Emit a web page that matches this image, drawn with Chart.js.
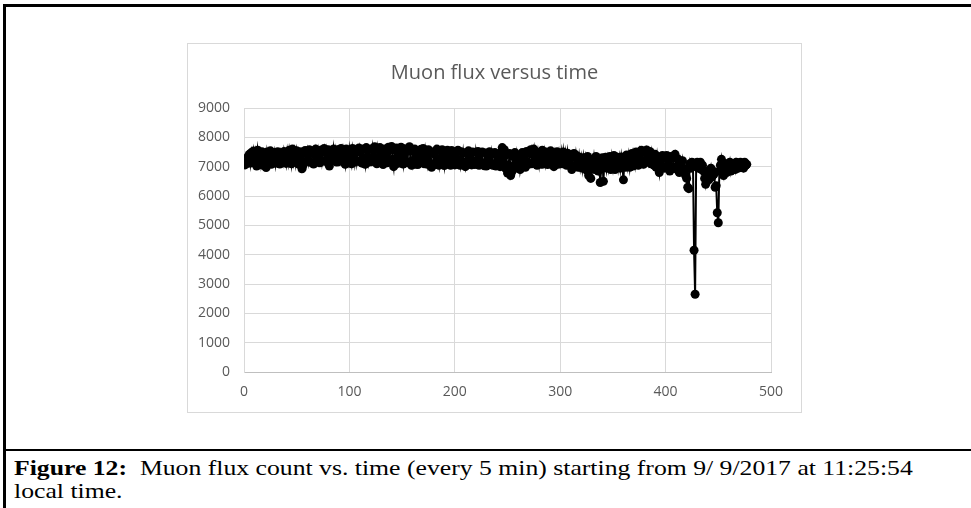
<!DOCTYPE html>
<html>
<head>
<meta charset="utf-8">
<script src="https://cdn.jsdelivr.net/npm/chart.js@4.4.1/dist/chart.umd.min.js"></script>
<style>
  html, body { margin: 0; padding: 0; background: #fff; }
  body { width: 971px; height: 508px; position: relative; overflow: hidden; }
  #frame { position: absolute; left: 3px; top: 4px; width: 1000px; height: 600px;
           border-left: 3px solid #000; border-top: 3px solid #000; }
  #rule { position: absolute; left: 3px; top: 449px; width: 980px; height: 2px; background: #000; }
  #chartBox { position: absolute; left: 187px; top: 43px; width: 613px; height: 368px;
              border: 1px solid #d9d9d9; background: #fff; }
  #chartBox canvas { position: absolute; left: 0; top: 0; }
  #caption { position: absolute; left: 14px; top: 457px; white-space: nowrap;
             font-family: "Liberation Serif", "Times New Roman", serif; font-size: 21px;
             line-height: 23px; color: #000; transform: scaleX(1.224); transform-origin: 0 0; }
</style>
</head>
<body>
<div id="frame"></div>
<div id="chartBox"><canvas id="flux-chart" width="613" height="368"></canvas></div>
<div id="rule"></div>
<div id="caption"><b>Figure 12:</b>&nbsp; Muon flux count vs. time (every 5 min) starting from 9/ 9/2017 at 11:25:54<br>local time.</div>

<script>
// Muon counts, one per 5 min sample
const fluxCounts = [
    7060, 7100, 7180, 7350, 7420, 7120, 7480, 7290, 7530, 7210, 7450, 7020, 7560, 7300, 7480, 7150, 7510, 7050, 7430, 7280,
    6970, 7500, 7310, 7160, 7540, 7080, 7450, 7290, 7480, 7120, 7430, 7510, 7170, 7090, 7460, 7300, 7140, 7520, 7330, 7110,
    7480, 7180, 7560, 7350, 7100, 7600, 7210, 7490, 7160, 7540, 7340, 7080, 7510, 7190, 6930, 7050, 7460, 7550, 7180, 7490,
    7210, 7580, 7150, 7470, 7530, 7090, 7450, 7600, 7310, 7160, 7480, 7130, 7560, 7200, 7500, 7620, 7180, 7520, 7250, 7580,
    7020, 7480, 7560, 7200, 7600, 7290, 7530, 7160, 7580, 7170, 7510, 7620, 7220, 7550, 7290, 7080, 7600, 7320, 7150, 7570,
    7280, 7100, 7620, 7440, 7160, 7580, 7190, 7510, 7640, 7170, 7560, 7120, 7600, 7300, 7080, 7650, 7330, 7150, 7590, 7210,
    7170, 7620, 7350, 7680, 7180, 7100, 7580, 7310, 7650, 7160, 7540, 7070, 7600, 7190, 7560, 7130, 7660, 7220, 7590, 7690,
    7250, 7000, 7570, 7200, 7640, 7110, 7540, 7180, 7660, 7320, 7090, 7610, 7160, 7550, 7130, 7590, 7680, 7180, 7050, 7530,
    7150, 7600, 7080, 7510, 7070, 7560, 7140, 7590, 7150, 7620, 7100, 7530, 7260, 7080, 7580, 7090, 7500, 6980, 7050, 7440,
    7520, 7070, 7600, 7250, 7050, 7540, 7110, 7580, 7290, 7040, 7520, 7130, 7560, 7080, 7490, 7050, 7550, 7120, 7480, 7060,
    7500, 7090, 7560, 7240, 7050, 7510, 7100, 7470, 7150, 7000, 7480, 7120, 7540, 7080, 7460, 7060, 7500, 7130, 7070, 7490,
    7210, 7520, 7050, 7450, 7080, 7500, 7100, 7030, 7470, 7020, 7440, 7080, 7510, 7090, 7420, 7050, 7060, 7480, 7020, 7400,
    7050, 7450, 7000, 7370, 7650, 7100, 7580, 6950, 7400, 6780, 7050, 7450, 6700, 6820, 7350, 7000, 7480, 6950, 7380, 7080,
    7400, 6900, 7120, 7480, 7050, 7400, 6980, 7520, 7150, 7080, 7450, 7580, 7100, 7420, 7600, 7160, 7500, 7050, 7430, 7110,
    7480, 7080, 7560, 7090, 7450, 7150, 7500, 7070, 7420, 7180, 7540, 7120, 7460, 7000, 7400, 7150, 7510, 7080, 7430, 7160,
    7470, 7100, 7500, 7190, 7450, 7050, 7460, 7160, 7080, 7400, 6900, 7350, 7450, 7020, 7390, 7100, 6980, 7330, 7000, 7280,
    6950, 7300, 6980, 7250, 6880, 7350, 6700, 7150, 6600, 7220, 6950, 7280, 6900, 7350, 6980, 6850, 7250, 6460, 7000, 7300,
    6500, 7200, 7320, 6950, 7250, 6980, 7350, 6900, 7300, 7000, 7380, 6900, 7250, 7320, 6980, 7280, 6950, 7330, 7050, 6550,
    7300, 6980, 7400, 7050, 7350, 6980, 7300, 7450, 7020, 7380, 7100, 7500, 7150, 7050, 7420, 7100, 7560, 7200, 7080, 7480,
    7150, 7570, 7450, 7200, 7520, 7100, 7450, 7180, 7050, 7420, 6980, 7350, 7050, 6800, 7300, 6950, 7380, 7000, 6950, 7300,
    7380, 6980, 7250, 6850, 7350, 7000, 6950, 7300, 7420, 6980, 6900, 7250, 6800, 7150, 6900, 7200, 6950, 6850, 6700, 6600,
    6300, 6250, 7100, 6950, 7150, 7000, 4150, 2650, 7050, 7150, 6950, 7100, 7150, 6900, 7050, 6850, 6600, 6400, 6700, 6850,
    6550, 6750, 6950, 6650, 6850, 6750, 6300, 6350, 5430, 5090, 6850, 7050, 7250, 6850, 6700, 7100, 6900, 6800, 7100, 6950,
    7150, 6850, 7050, 6950, 7100, 6900, 7150, 7000, 6950, 7100, 7150, 7000, 7100, 6950, 7150, 7050, 7080
];

// sample number on the x axis
const sampleNo = fluxCounts.map((_, i) => i + 1);

const xTicks = [0, 100, 200, 300, 400, 500];
const yTicks = [0, 1000, 2000, 3000, 4000, 5000, 6000, 7000, 8000, 9000];

const tickFont = { family: 'Open Sans', size: 14 };
const gray = '#595959';
const gridGray = '#d9d9d9';

const points = sampleNo.map((x, i) => ({ x: x, y: fluxCounts[i] }));

new Chart(document.getElementById('flux-chart'), {
    type: 'line',
    data: {
        datasets: [{
            data: points,
            borderColor: '#000',
            borderWidth: 2,
            backgroundColor: '#000',
            pointRadius: 4.5,
            pointBorderWidth: 0,
            pointBackgroundColor: '#000',
            tension: 0
        }]
    },
    options: {
        responsive: false,
        animation: false,
        layout: { padding: 0 },
        plugins: {
            legend: { display: false },
            tooltip: { enabled: false },
            title: {
                display: true,
                text: 'Muon flux versus time',
                color: gray,
                font: { family: 'Open Sans', size: 20, weight: 'normal' },
                padding: { top: 17, bottom: 23 }
            }
        },
        scales: {
            x: {
                type: 'linear',
                min: xTicks[0],
                max: xTicks[xTicks.length - 1],
                afterBuildTicks: s => { s.ticks = xTicks.map(v => ({ value: v })); },
                afterFit: s => { s.height = 40; },
                grid: { color: gridGray, drawTicks: false },
                border: { color: '#bfbfbf' },
                ticks: { color: gray, font: tickFont, padding: 12, maxRotation: 0, callback: v => String(v) }
            },
            y: {
                min: yTicks[0],
                max: yTicks[yTicks.length - 1],
                afterBuildTicks: s => { s.ticks = yTicks.map(v => ({ value: v })); },
                afterFit: s => { s.width = 56; },
                grid: { color: gridGray, drawTicks: false },
                border: { color: gridGray },
                ticks: { color: gray, font: tickFont, padding: 14, callback: v => String(v) }
            },
            // empty right-hand axis, only reserves space so the title stays centred
            yPad: {
                position: 'right',
                afterFit: s => { s.width = 30; },
                grid: { display: false },
                border: { display: false },
                ticks: { display: false }
            }
        }
    }
});
</script>
</body>
</html>
